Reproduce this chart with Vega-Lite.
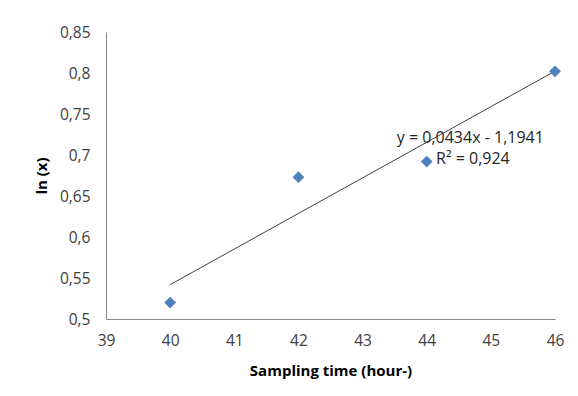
{
  "$schema": "https://vega.github.io/schema/vega-lite/v6.json",
  "width": 449,
  "height": 287,
  "autosize": {"type": "none"},
  "padding": {"left": 106, "top": 32, "right": 23, "bottom": 77},
  "background": "white",
  "config": {
    "view": {"stroke": null},
    "font": "Open Sans",
    "axis": {"grid": false, "ticks": false, "labelFlush": false, "labelOverlap": false, "domainColor": "#868686", "labelColor": "#404040", "labelFontSize": 15.5, "titleFontSize": 15, "titleFontWeight": "bold", "titleColor": "#000000", "labelFont": "Open Sans", "titleFont": "Open Sans"}
  },
  "datasets": {
    "pts": [
      {"t": 40, "lnx": 0.520},
      {"t": 42, "lnx": 0.673},
      {"t": 44, "lnx": 0.692},
      {"t": 46, "lnx": 0.802}
    ],
    "trend": [
      {"t": 40, "lnx": 0.5419},
      {"t": 46, "lnx": 0.8023}
    ],
    "labels": [
      {"t": 44.68, "lnx": 0.7205, "txt": "y = 0,0434x - 1,1941"},
      {"t": 44.72, "lnx": 0.6955, "txt": "R² = 0,924"}
    ]
  },
  "layer": [
    {
      "data": {"name": "trend"},
      "mark": {"type": "line", "color": "#404040", "strokeWidth": 1},
      "encoding": {
        "x": {"field": "t", "type": "quantitative", "scale": {"domain": [39, 46], "nice": false, "zero": false},
              "axis": {"values": [39, 40, 41, 42, 43, 44, 45, 46], "format": "d", "title": "Sampling time (hour-)", "labelPadding": 14, "titlePadding": 15}},
        "y": {"field": "lnx", "type": "quantitative", "scale": {"domain": [0.5, 0.85], "nice": false, "zero": false},
              "axis": {"values": [0.5, 0.55, 0.6, 0.65, 0.7, 0.75, 0.8, 0.85], "title": "ln (x)", "labelExpr": "replace(format(datum.value, '.2~f'), '.', ',')", "labelPadding": 16, "titlePadding": 10}}
      }
    },
    {
      "data": {"name": "pts"},
      "mark": {"type": "point", "shape": "diamond", "filled": true, "color": "#4F81BD", "opacity": 1, "size": 140},
      "encoding": {
        "x": {"field": "t", "type": "quantitative"},
        "y": {"field": "lnx", "type": "quantitative"}
      }
    },
    {
      "data": {"name": "labels"},
      "mark": {"type": "text", "fontSize": 16, "color": "#262626", "align": "center", "baseline": "middle", "font": "Open Sans"},
      "encoding": {
        "x": {"field": "t", "type": "quantitative"},
        "y": {"field": "lnx", "type": "quantitative"},
        "text": {"field": "txt"}
      }
    }
  ]
}
